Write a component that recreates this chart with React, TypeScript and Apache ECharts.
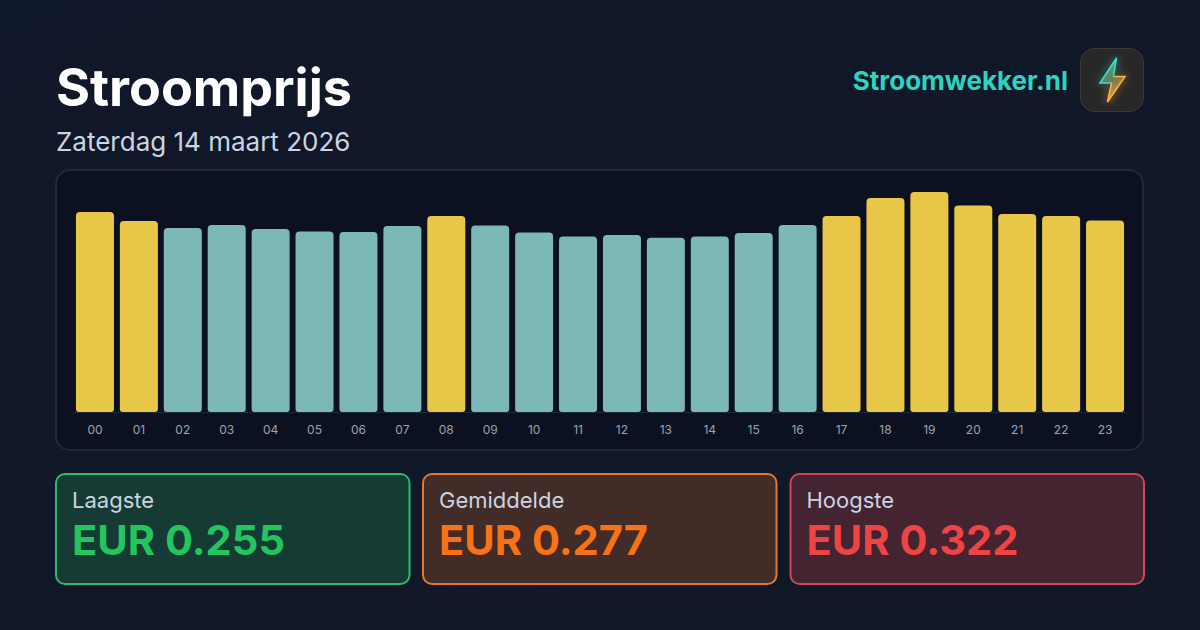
import React, { useEffect, useRef } from "react";
import * as echarts from "echarts";

const hours = ["00","01","02","03","04","05","06","07","08","09","10","11","12","13","14","15","16","17","18","19","20","21","22","23"];
const prices = [0.2927,0.2796,0.2693,0.2737,0.2678,0.2642,0.2635,0.2722,0.2869,0.273,0.2627,0.2569,0.2591,0.255,0.2569,0.262,0.2737,0.2869,0.3132,0.322,0.3022,0.2898,0.2869,0.2803];
const aboveAverage = [1,1,0,0,0,0,0,0,1,0,0,0,0,0,0,0,0,1,1,1,1,1,1,1];
const cardLabels = ["Laagste","Gemiddelde","Hoogste"];
const cardValues = ["EUR 0.255","EUR 0.277","EUR 0.322"];
const cardColors = ["#22c55e","#f97316","#ef4444"];
const cardBorders = ["#2dbb68","#e5782c","#cf4850"];
const cardFills = ["#163a34","#422c27","#432430"];
const cardX = [56,423,790.5];

const FONT = "Inter";
const YELLOW = "#e8c648";
const TEAL = "#7cb8b7";

echarts.graphic.registerShape("bolt", echarts.graphic.extendPath("M17 0 L0.5 25 L12 25 L8 44 L25.5 18.5 L14 18.5 Z", {}) as any);
echarts.graphic.registerShape("boltTop", echarts.graphic.extendPath("M14 18.5 L17 0 L0.5 25 L12 25", {}) as any);
echarts.graphic.registerShape("boltBottom", echarts.graphic.extendPath("M12 25 L8 44 L25.5 18.5 L14 18.5", {}) as any);

export default function App() {
  const ref = useRef<HTMLDivElement>(null);
  useEffect(() => {
    document.body.style.margin = "0";
    const chart = echarts.init(ref.current!, undefined, { renderer: "svg" });
    const boltFill = new echarts.graphic.LinearGradient(0.3, 0, 0.5, 1, [
      { offset: 0, color: "rgba(45,212,191,0.8)" },
      { offset: 0.5, color: "rgba(130,140,90,0.7)" },
      { offset: 1, color: "rgba(251,170,60,0.85)" },
    ]);
    const cards = cardLabels.flatMap((label, i) => [
      { type: "rect", shape: { x: cardX[i], y: 474, width: 353.5, height: 110, r: 9 },
        style: { fill: cardFills[i], stroke: cardBorders[i], lineWidth: 2 } },
      { type: "text", x: cardX[i] + 16, y: 489, style: { text: label, fill: "#cbd5e1", font: `400 22px ${FONT}` } },
      { type: "text", x: cardX[i] + 16, y: 519, style: { text: cardValues[i], fill: cardColors[i], font: `700 41.6px ${FONT}` } },
    ]);
    chart.setOption({
      animation: false,
      backgroundColor: new echarts.graphic.LinearGradient(0, 0, 1, 1, [
        { offset: 0, color: "#0f172a" },
        { offset: 1, color: "#111827" },
      ]),
      grid: { left: 73, right: 73, top: 192, bottom: 218 },
      xAxis: {
        type: "category",
        data: hours,
        axisTick: { show: false },
        axisLine: { show: true, lineStyle: { color: "#1e293b", width: 1 } },
        axisLabel: { color: "#9ca3af", fontSize: 12, fontFamily: FONT, margin: 11 },
      },
      yAxis: { type: "value", min: 0, max: 0.322, show: false, splitLine: { show: false } },
      series: [{
        type: "bar",
        barWidth: 38,
        data: prices.map((v, i) => ({ value: v, itemStyle: { color: aboveAverage[i] ? YELLOW : TEAL } })),
        itemStyle: { borderRadius: [4, 4, 3, 3] },
      }],
      graphic: [
        { type: "rect", z: 0, shape: { x: 56, y: 170, width: 1087, height: 280, r: 14 },
          style: { fill: "#0b1120", stroke: "#1e293b", lineWidth: 2 } },
        { type: "text", x: 56, y: 61, style: { text: "Stroomprijs", fill: "#ffffff", font: `700 52px ${FONT}` } },
        { type: "text", x: 56, y: 128.5, style: { text: "Zaterdag 14 maart 2026", fill: "#cbd5e1", font: `400 26px ${FONT}` } },
        { type: "text", x: 1068, y: 67, style: { text: "Stroomwekker.nl", fill: "#2dd4bf", font: `700 26px ${FONT}`, align: "right" } },
        { type: "rect", shape: { x: 1080.5, y: 48.5, width: 63, height: 63, r: 14 },
          style: { fill: "#272727", stroke: "#3a3a3a", lineWidth: 1 } },
        { type: "bolt", x: 1099.5, y: 58, style: { fill: boltFill } },
        { type: "boltTop", x: 1099.5, y: 58,
          style: { fill: "none", stroke: "#3fe0cc", lineWidth: 1.5, shadowBlur: 8, shadowColor: "rgba(45,212,191,0.95)" } },
        { type: "boltBottom", x: 1099.5, y: 58,
          style: { fill: "none", stroke: "#fbb347", lineWidth: 1.5, shadowBlur: 8, shadowColor: "rgba(251,160,50,0.95)" } },
        ...cards,
      ],
    });
    return () => chart.dispose();
  }, []);
  return <div ref={ref} style={{ position: "absolute", left: 0, top: 0, width: 1200, height: 630 }} />;
}
